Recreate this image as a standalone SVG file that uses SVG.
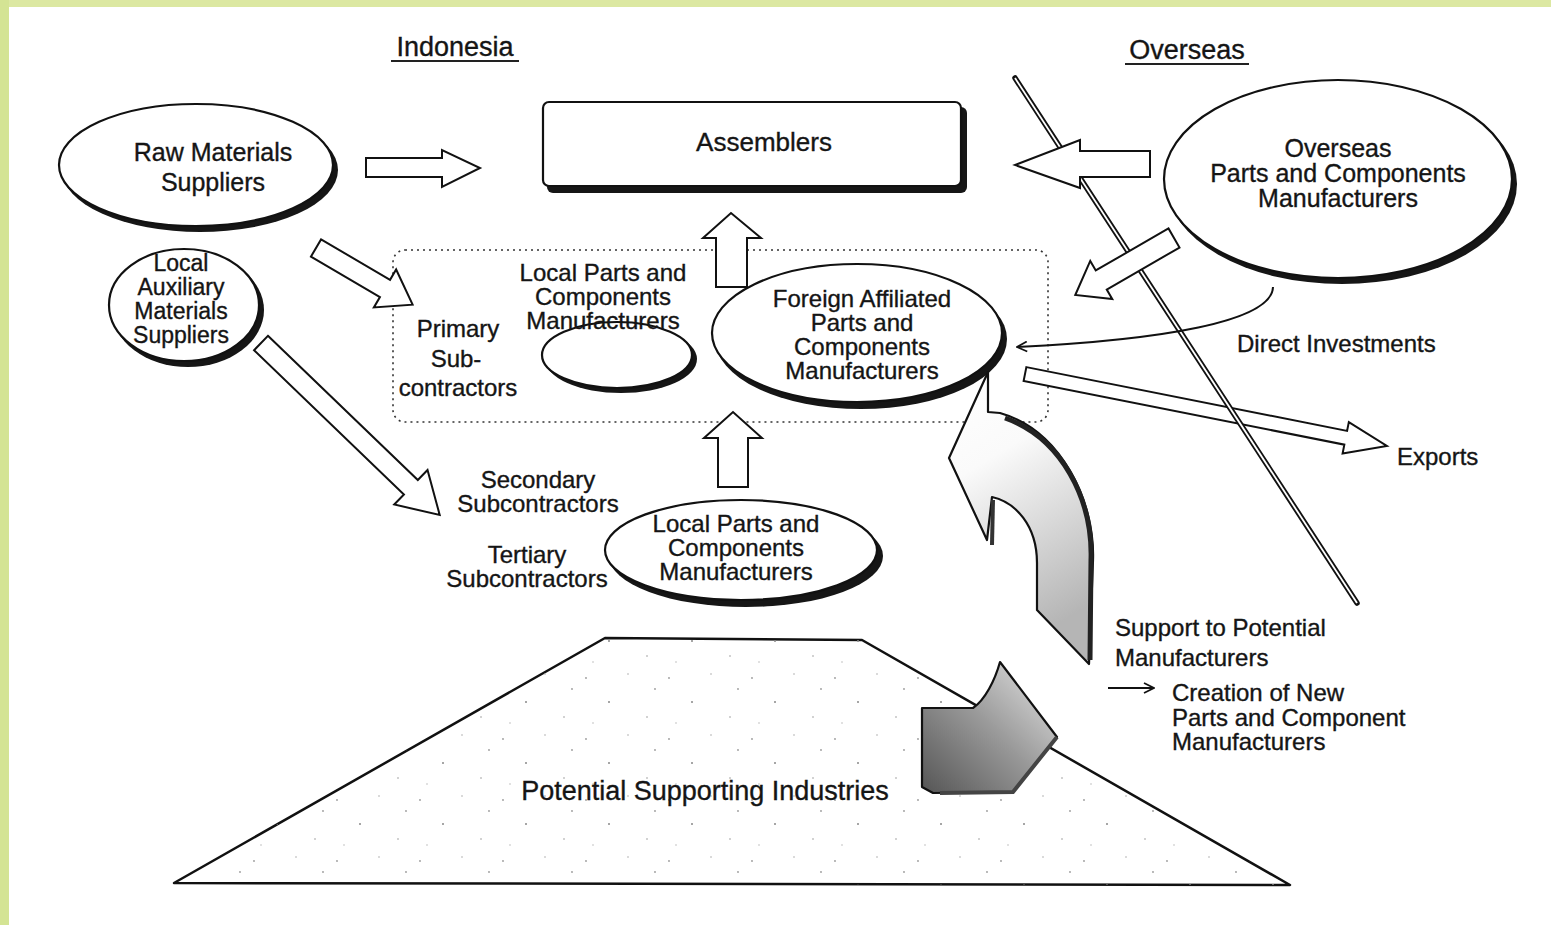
<svg xmlns="http://www.w3.org/2000/svg" width="1551" height="925" viewBox="0 0 1551 925">
<style>
.t{font-family:"Liberation Sans",Arial,sans-serif;font-size:24px;fill:#151515;stroke:#151515;stroke-width:0.35;text-anchor:middle}
.s{text-anchor:start}
.ol{fill:#fff;stroke:#111;stroke-width:2.2}
.sh{fill:#161616}
.ar{fill:#fff;stroke:#111;stroke-width:2;stroke-linejoin:miter}
.ln{fill:none;stroke:#111;stroke-width:2}
</style>
<defs>
<pattern id="dots" width="83" height="61" patternUnits="userSpaceOnUse">
<circle cx="5" cy="7" r="0.9" fill="#999"/>
<circle cx="47" cy="3" r="0.8" fill="#aaa"/>
<circle cx="28" cy="31" r="1" fill="#888"/>
<circle cx="66" cy="46" r="0.8" fill="#999"/>
<circle cx="12" cy="52" r="0.7" fill="#aaa"/>
<circle cx="74" cy="18" r="0.9" fill="#999"/>
</pattern>
<linearGradient id="cg" x1="0" y1="0" x2="0.3" y2="1">
<stop offset="0" stop-color="#fff"/>
<stop offset="0.35" stop-color="#fafafa"/>
<stop offset="1" stop-color="#b5b5b5"/>
</linearGradient>
<linearGradient id="bg2" x1="0" y1="1" x2="1" y2="0">
<stop offset="0" stop-color="#555"/>
<stop offset="0.5" stop-color="#999"/>
<stop offset="1" stop-color="#e8e8e8"/>
</linearGradient>
<marker id="oh" viewBox="0 0 12 12" refX="11" refY="6" markerWidth="12" markerHeight="12" markerUnits="userSpaceOnUse" orient="auto">
<path d="M1,1 L11,6 L1,11" fill="none" stroke="#111" stroke-width="1.8"/>
</marker>
</defs>
<rect x="0" y="0" width="1551" height="925" fill="#fff"/>
<rect x="0" y="0" width="1551" height="7" fill="#dce8a2"/>
<rect x="0" y="0" width="9" height="925" fill="#d4e494"/>

<g id="title-indonesia">
<text class="t" x="455" y="56" style="font-size:27px">Indonesia</text>
<line x1="391" y1="61" x2="519" y2="61" stroke="#222" stroke-width="1.8"/>
</g>
<g id="title-overseas">
<text class="t" x="1187" y="59" style="font-size:27px">Overseas</text>
<line x1="1125" y1="64" x2="1249" y2="64" stroke="#222" stroke-width="1.8"/>
</g>

<g id="potential-supporting-industries">
<polygon points="605,638 862,640 1290,885 174,883" fill="#fff" stroke="#111" stroke-width="2.5" stroke-linejoin="round"/>
<polygon points="605,638 862,640 1290,885 174,883" fill="url(#dots)" stroke="none"/>
<text class="t" x="705" y="800" style="font-size:27px">Potential Supporting Industries</text>
</g>

<g id="primary-box">
<rect x="393" y="250" width="655" height="172" rx="12" fill="none" stroke="#333" stroke-width="1.6" stroke-dasharray="2 4"/>
<text class="t" x="458" y="337">Primary</text>
<text class="t" x="456" y="367">Sub-</text>
<text class="t" x="458" y="396">contractors</text>
</g>

<g id="raw-materials">
<ellipse class="sh" cx="200" cy="170" rx="138" ry="62"/>
<ellipse class="ol" cx="196" cy="165" rx="137" ry="61"/>
<text class="t" x="213" y="161" style="font-size:25px">Raw Materials</text>
<text class="t" x="213" y="191" style="font-size:25px">Suppliers</text>
</g>

<g id="local-auxiliary">
<ellipse class="sh" cx="188" cy="310" rx="76" ry="57"/>
<ellipse class="ol" cx="184" cy="305" rx="75" ry="56"/>
<text class="t" x="181" y="271" style="font-size:23px">Local</text>
<text class="t" x="181" y="295" style="font-size:23px">Auxiliary</text>
<text class="t" x="181" y="319" style="font-size:23px">Materials</text>
<text class="t" x="181" y="343" style="font-size:23px">Suppliers</text>
</g>

<g id="assemblers">
<rect class="sh" x="547" y="107" width="420" height="86" rx="6"/>
<rect class="ol" x="543" y="102" width="418" height="84" rx="6"/>
<text class="t" x="764" y="151" style="font-size:26px">Assemblers</text>
</g>

<g id="local-parts-inner">
<ellipse class="sh" cx="621" cy="359" rx="76" ry="34"/>
<ellipse class="ol" cx="617" cy="355" rx="75" ry="33"/>
<text class="t" x="603" y="281">Local Parts and</text>
<text class="t" x="603" y="305">Components</text>
<text class="t" x="603" y="329">Manufacturers</text>
</g>

<g id="foreign-affiliated">
<ellipse class="sh" cx="861" cy="339" rx="146" ry="70"/>
<ellipse class="ol" cx="857" cy="333" rx="145" ry="69"/>
<text class="t" x="862" y="307">Foreign Affiliated</text>
<text class="t" x="862" y="331">Parts and</text>
<text class="t" x="862" y="355">Components</text>
<text class="t" x="862" y="379">Manufacturers</text>
</g>

<g id="overseas-manufacturers">
<ellipse class="sh" cx="1342" cy="184" rx="175" ry="100"/>
<ellipse class="ol" cx="1338" cy="179" rx="174" ry="99"/>
<text class="t" x="1338" y="157" style="font-size:25px">Overseas</text>
<text class="t" x="1338" y="182" style="font-size:25px">Parts and Components</text>
<text class="t" x="1338" y="207" style="font-size:25px">Manufacturers</text>
</g>

<g id="local-parts-bottom">
<ellipse class="sh" cx="746" cy="556" rx="137" ry="51"/>
<ellipse class="ol" cx="741" cy="550" rx="136" ry="50"/>
<text class="t" x="736" y="532">Local Parts and</text>
<text class="t" x="736" y="556">Components</text>
<text class="t" x="736" y="580">Manufacturers</text>
</g>

<g id="labels">
<text class="t" x="538" y="488">Secondary</text>
<text class="t" x="538" y="512">Subcontractors</text>
<text class="t" x="527" y="563">Tertiary</text>
<text class="t" x="527" y="587">Subcontractors</text>
<text class="t s" x="1237" y="352">Direct Investments</text>
<text class="t s" x="1397" y="465">Exports</text>
<text class="t s" x="1115" y="636">Support to Potential</text>
<text class="t s" x="1115" y="666">Manufacturers</text>
<text class="t s" x="1172" y="701">Creation of New</text>
<text class="t s" x="1172" y="726">Parts and Component</text>
<text class="t s" x="1172" y="750">Manufacturers</text>
</g>

<g id="connectors">
<polygon class="ar" points="366,158 442,158 442,150 480,168 442,187 442,177 366,177"/>
<polygon class="ar" transform="translate(316,248) rotate(30.4)" points="0,-10 80,-10 80,-22 112,0 80,22 80,10 0,10"/>
<polygon class="ar" transform="translate(261,343) rotate(43.9)" points="0,-10 208,-10 208,-24 248,0 208,24 208,10 0,10"/>
<polygon class="ar" points="716,287 716,238 703,238 731,213 761,238 747,238 747,287"/>
<polygon class="ar" points="718,487 718,438 704,438 733,412 762,438 748,438 748,487"/>
<polygon class="ar" transform="translate(1025,374) rotate(11.25)" points="0,-7 327,-7 327,-16 369,0 327,16 327,7 0,7"/>
<line x1="1015" y1="78" x2="1357" y2="603" stroke="#111" stroke-width="5.5" stroke-linecap="round"/>
<line x1="1015" y1="78" x2="1357" y2="603" stroke="#fff" stroke-width="1.8"/>
<polygon class="ar" points="1150,151 1080,151 1080,140 1015,165 1080,188 1080,177 1150,177"/>
<polygon class="ar" transform="translate(1174,238) rotate(150)" points="0,-11 84,-11 84,-22 114,0 84,22 84,11 0,11"/>
<path class="ln" d="M1273,287 C1272,322 1160,340 1017,347" stroke-width="1.8" marker-end="url(#oh)"/>
<line x1="1108" y1="688" x2="1154" y2="688" stroke="#111" stroke-width="2" marker-end="url(#oh)"/>
<path d="M988,372 L949,458 L987,540 L992,497 C1015,502 1037,525 1037,563 L1037,610 L1089,664 L1093,560 C1095,500 1060,430 1000,413 L988,412 Z" fill="url(#cg)" stroke="#111" stroke-width="2.2" stroke-linejoin="round"/>
<path d="M1005,418 C1062,438 1093,500 1091,560 L1090,660" fill="none" stroke="#222" stroke-width="5"/>
<path d="M993,500 L992,545" fill="none" stroke="#333" stroke-width="4"/>
<path d="M922,708 L973,708 C985,700 995,680 1000,662 L1057,737 L1013,792 L933,793 L922,787 Z" fill="url(#bg2)" stroke="#111" stroke-width="2.2" stroke-linejoin="round"/>
<path d="M1057,737 L1013,792 L940,793" fill="none" stroke="#444" stroke-width="4"/>
</g>
</svg>
